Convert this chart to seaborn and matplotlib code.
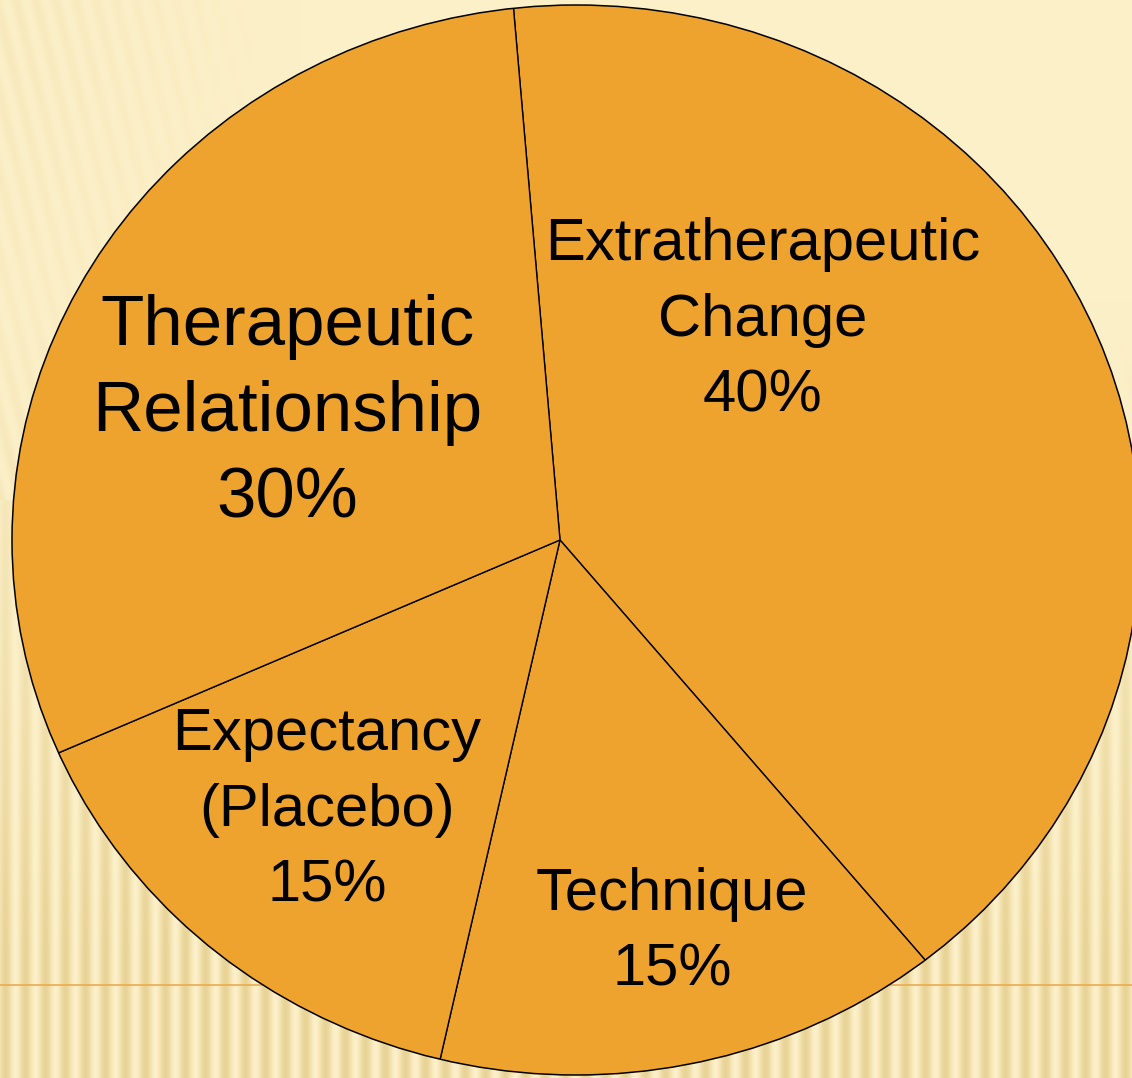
import numpy as np
import matplotlib
matplotlib.use("Agg")
import matplotlib.pyplot as plt
import seaborn as sns
from matplotlib.colors import to_rgb
from matplotlib.patches import Ellipse

# ---- data ----
categories = ["Extratherapeutic\nChange", "Technique", "Expectancy\n(Placebo)", "Therapeutic\nRelationship"]
shares = [40, 15, 15, 30]
pct_labels = ["40%", "15%", "15%", "30%"]

sns.set_style("white")
plt.rcParams['font.family'] = ['Liberation Sans', 'DejaVu Sans']

W, H = 1132, 1078
fig = plt.figure(figsize=(W / 100, H / 100), dpi=100)

# ---- background (slide decoration) ----
bg = fig.add_axes([0, 0, 1, 1])
bg.set_axis_off()
yy, xx = np.mgrid[0:H, 0:W]
base = np.array(to_rgb("#FCF0C9"))
dark = np.array(to_rgb("#E4CD8A"))
stripe = 0.5 + 0.5 * np.sin(2 * np.pi * (xx + 0.25 * (H - yy) * (yy < 500)) / 20.0)
fade = np.clip((yy - 300) / 650.0, 0, 1) ** 1.2 + np.clip((300 - xx) / 300.0, 0, 1) * 0.25 * np.clip(1 - yy / 700.0, 0, 1)
fade = np.clip(fade, 0, 1)
amt = (stripe * fade * 0.8)[..., None]
img = base * (1 - amt) + dark * amt
bg.imshow(img, extent=(0, 1, 0, 1), aspect="auto", zorder=0)
bg.axhline(1 - 985 / H, color="#EDAA4E", lw=1.2, zorder=1)
bg.set_xlim(0, 1)
bg.set_ylim(0, 1)

# ---- pie (pixel-unit axes) ----
ax = fig.add_axes([0, 0, 1, 1])
ax.set_facecolor("none")
apex = (560, H - 540)
wedges, _ = ax.pie(
    shares,
    startangle=95,
    counterclock=False,
    center=apex,
    radius=900,
    colors=["#EEA32E"] * len(shares),
    wedgeprops=dict(edgecolor="black", linewidth=1.0),
)
ax.set_aspect("auto")
ax.set_xlim(0, W)
ax.set_ylim(0, H)
outline = Ellipse((576, H - 540), 2 * 564, 2 * 535, facecolor="none",
                  edgecolor="black", linewidth=1.1, zorder=5)
ax.add_patch(outline)
for w in wedges:
    w.set_clip_on(True)
    w.set_clip_path(outline)
ax.set_axis_off()

# label positions (figure fraction) and sizes
label_pos = [(763 / W, 1 - 320 / H), (672 / W, 1 - 932 / H), (327 / W, 1 - 810 / H), (287 / W, 1 - 413 / H)]
label_size = [43, 43, 43, 51]
label_ls = [1.48, 1.48, 1.48, 1.4]
for cat, pct, (px, py), fs, ls in zip(categories, pct_labels, label_pos, label_size, label_ls):
    fig.text(px, py, f"{cat}\n{pct}", ha="center", va="center", fontsize=fs,
             linespacing=ls, color="black", zorder=10)

fig.savefig("out.png", dpi=100)
